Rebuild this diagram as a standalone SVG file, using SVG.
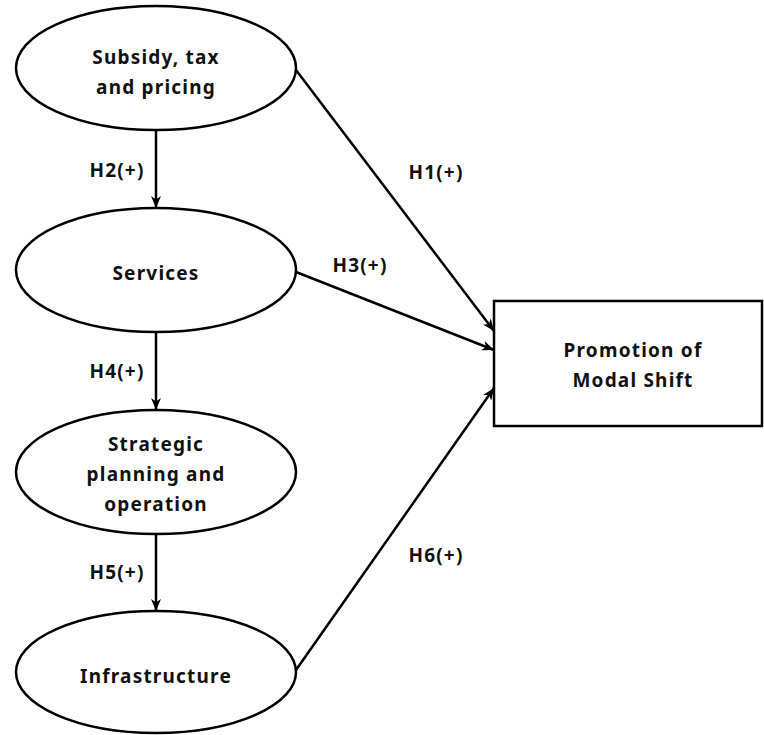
<svg xmlns="http://www.w3.org/2000/svg" width="764" height="735" viewBox="0 0 764 735">
<style>
.node{fill:#fff;stroke:#000;stroke-width:2.5}
.lbl{font-family:"Noto Sans","Liberation Sans",sans-serif;font-weight:bold;font-size:19px;letter-spacing:1.2px;fill:#111;text-anchor:middle}
.edge{stroke:#000;stroke-width:2.5;fill:none}
</style>
<defs>
<marker id="arr" viewBox="0 0 12 10" refX="12" refY="5" markerWidth="12" markerHeight="10" markerUnits="userSpaceOnUse" orient="auto">
<path d="M0,0 L12,5 L0,10 L3.5,5 z" fill="#000"/>
</marker>
</defs>
<rect width="764" height="735" fill="#fff"/>
<g id="connectors">
<line class="edge" x1="156" y1="130" x2="156" y2="208" marker-end="url(#arr)"/>
<line class="edge" x1="156" y1="332" x2="156" y2="410" marker-end="url(#arr)"/>
<line class="edge" x1="156" y1="535" x2="156" y2="611" marker-end="url(#arr)"/>
<line class="edge" x1="296" y1="70" x2="494" y2="331" marker-end="url(#arr)"/>
<line class="edge" x1="296" y1="272" x2="494" y2="350" marker-end="url(#arr)"/>
<line class="edge" x1="296" y1="670" x2="494" y2="388" marker-end="url(#arr)"/>
<text class="lbl" x="117" y="177">H2(+)</text>
<text class="lbl" x="117" y="378">H4(+)</text>
<text class="lbl" x="117" y="579">H5(+)</text>
<text class="lbl" x="436" y="179">H1(+)</text>
<text class="lbl" x="360" y="272">H3(+)</text>
<text class="lbl" x="436" y="562">H6(+)</text>
</g>
<g id="n-subsidy">
<ellipse class="node" cx="156" cy="68" rx="140" ry="62"/>
<text class="lbl" x="156" y="64">Subsidy, tax</text>
<text class="lbl" x="156" y="94">and pricing</text>
</g>
<g id="n-services">
<ellipse class="node" cx="156" cy="270" rx="140" ry="62"/>
<text class="lbl" x="156" y="280">Services</text>
</g>
<g id="n-strategic">
<ellipse class="node" cx="156" cy="472" rx="140" ry="62"/>
<text class="lbl" x="156" y="451">Strategic</text>
<text class="lbl" x="156" y="481">planning and</text>
<text class="lbl" x="156" y="511">operation</text>
</g>
<g id="n-infra">
<ellipse class="node" cx="156" cy="672" rx="140" ry="61"/>
<text class="lbl" x="156" y="683">Infrastructure</text>
</g>
<g id="n-promotion">
<rect class="node" x="494" y="301" width="268" height="125"/>
<text class="lbl" x="633" y="357">Promotion of</text>
<text class="lbl" x="633" y="387">Modal Shift</text>
</g>
</svg>
